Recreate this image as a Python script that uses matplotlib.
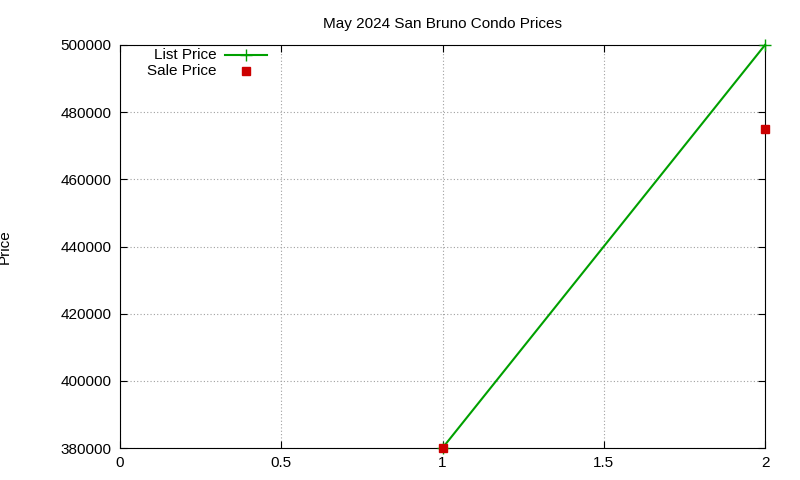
import matplotlib
matplotlib.use("Agg")
import matplotlib.pyplot as plt

plt.rcParams['font.family'] = ['Liberation Sans', 'DejaVu Sans']

x_list = [1, 2]
list_price = [380000, 500000]
x_sale = [1, 2]
sale_price = [380000, 475000]
xticks = [0, 0.5, 1, 1.5, 2]
yticks = [380000, 400000, 420000, 440000, 460000, 480000, 500000]

fig = plt.figure(figsize=(8, 4.8), dpi=100)
ax = fig.add_axes([120/800, 1-448/480, (765-120)/800, (448-45)/480])
ax.plot(x_list, list_price, color='#00a000', marker='+', markersize=8, lw=1.5, clip_on=False, zorder=3)
ax.plot(x_sale, sale_price, color='#cc0000', marker='s', markersize=6, ls='none', clip_on=False, zorder=4)
ax.set_xlim(0, 2)
ax.set_ylim(380000, 500000)
ax.set_xticks(xticks)
ax.set_xticklabels(['0', '0.5', '1', '1.5', '2'])
ax.set_yticks(yticks)
ax.set_yticklabels([str(v) for v in yticks])
ax.grid(True, color='#a0a0a0', ls=(0, (1, 2)), lw=0.8)
ax.tick_params(direction='in', top=True, right=True, labelsize=11, length=5, pad=6)
for s in ax.spines.values():
    s.set_linewidth(0.8)
ax.set_title('May 2024 San Bruno Condo Prices', fontsize=11, pad=12)
ax.set_ylabel('Price', fontsize=11)
ax.yaxis.set_label_coords(-108/645, 0.5)

# manual gnuplot-style key
tr = ax.transAxes
ax.text(0.150, 0.975, 'List Price', transform=tr, ha='right', va='center', fontsize=11)
ax.plot([0.163, 0.228], [0.975, 0.975], transform=tr, color='#00a000', lw=1.5)
ax.plot([0.1955], [0.975], transform=tr, color='#00a000', marker='+', markersize=8)
ax.text(0.150, 0.935, 'Sale Price', transform=tr, ha='right', va='center', fontsize=11)
ax.plot([0.1955], [0.935], transform=tr, color='#cc0000', marker='s', markersize=6)
fig.savefig('out.png', dpi=100)
